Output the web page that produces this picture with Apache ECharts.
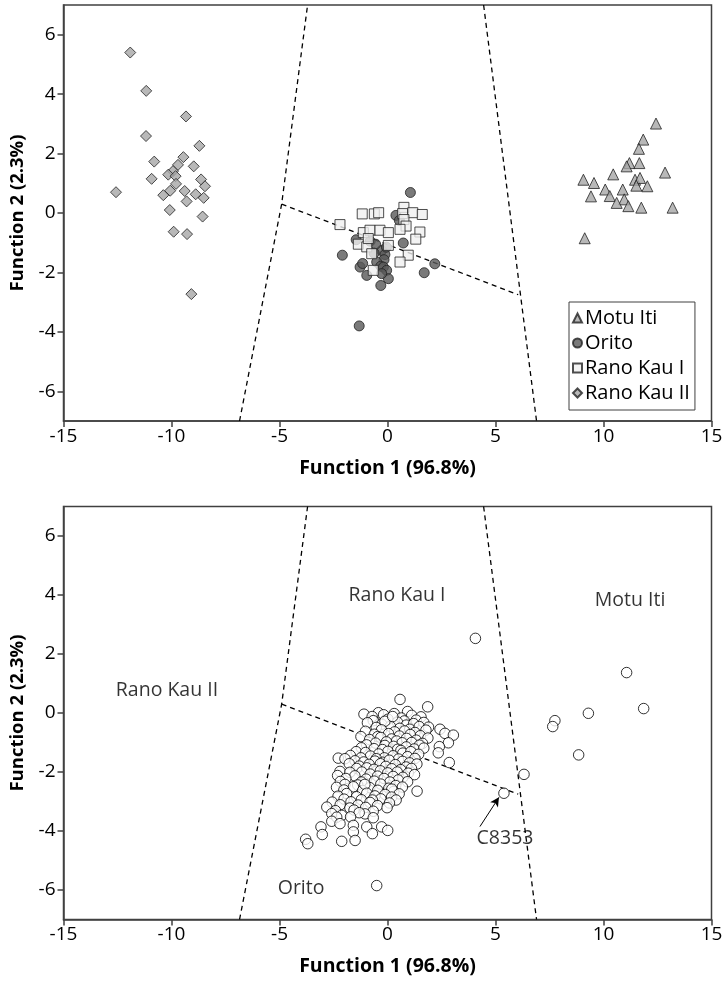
<!DOCTYPE html>
<html>
<head>
<meta charset="utf-8">
<script src="https://cdn.jsdelivr.net/npm/echarts@6/dist/echarts.min.js"></script>
<style>
  html, body { margin: 0; background: #fff; }
  #chart { width: 727px; height: 984px; }
</style>
</head>
<body>
<div id="chart"></div>
<script>
// Function 1 / Function 2 scores

const Y_TICKS = [-6, -4, -2, 0, 2, 4, 6];

const motuIti = [
  [12.43, 3.01], [11.84, 2.47], [11.64, 2.16], [11.20, 1.68], [11.66, 1.68], [11.07, 1.57],
  [10.45, 1.30], [12.85, 1.36], [9.07, 1.12], [9.56, 1.01], [11.46, 1.12], [11.69, 1.18],
  [11.52, 0.92], [12.03, 0.90], [10.89, 0.79], [10.08, 0.79], [9.42, 0.56], [10.29, 0.57],
  [10.96, 0.46], [10.61, 0.34], [11.15, 0.23], [11.75, 0.18], [13.20, 0.18], [9.13, -0.85]
];

const orito = [
  [1.06, 0.69], [0.39, -0.08], [-1.45, -0.90], [0.73, -1.01], [-2.09, -1.42], [-0.27, -1.26],
  [-0.12, -1.40], [-0.16, -1.57], [-0.50, -1.65], [-1.27, -1.82], [-1.15, -1.70], [-0.96, -2.10],
  [-0.31, -1.79], [-0.19, -1.82], [-0.04, -1.93], [0.04, -2.21], [-0.27, -2.04], [-0.31, -2.44],
  [2.19, -1.71], [1.70, -2.01], [-1.31, -3.80], [-0.80, -0.95], [0.55, -0.25], [-0.55, -1.05],
  [-0.62, -1.35], [-0.05, -1.15]
];

const ranoKauI = [
  [-2.20, -0.39], [-1.17, -0.03], [-0.61, -0.03], [-0.41, 0.01], [0.76, 0.19], [0.70, -0.02],
  [1.17, 0.01], [1.61, -0.05], [0.76, -0.22], [0.86, -0.44], [0.58, -0.55], [1.50, -0.64],
  [1.31, -0.88], [-1.12, -0.66], [-0.81, -0.58], [-0.35, -0.58], [0.04, -0.66], [-1.35, -1.05],
  [-0.96, -1.14], [-0.89, -0.86], [0.04, -1.09], [-0.73, -1.37], [0.96, -1.42], [0.58, -1.65],
  [-0.66, -1.93]
];

const ranoKauII = [
  [-11.91, 5.40], [-11.17, 4.11], [-9.33, 3.25], [-11.18, 2.59], [-8.71, 2.26], [-10.80, 1.73],
  [-9.45, 1.88], [-9.70, 1.62], [-8.97, 1.57], [-10.92, 1.15], [-9.93, 1.41], [-10.15, 1.29],
  [-9.81, 1.24], [-8.63, 1.13], [-8.45, 0.90], [-12.57, 0.70], [-9.79, 0.98], [-10.06, 0.75],
  [-10.38, 0.60], [-9.39, 0.74], [-8.88, 0.63], [-8.51, 0.51], [-9.30, 0.39], [-10.08, 0.10],
  [-8.56, -0.12], [-9.90, -0.63], [-9.28, -0.71], [-9.08, -2.73]
];

// unassigned artefacts (lower panel)
const artefacts = [
  [0.58, 0.46], [1.86, 0.21], [0.93, 0.05], [-0.42, 0.01], [-1.09, -0.04], [-0.18, -0.06],
  [0.31, -0.02], [1.12, -0.08], [1.55, -0.13], [0.64, -0.17], [-0.71, -0.12], [-0.66, -0.26],
  [0.02, -0.21], [0.78, -0.27], [1.33, -0.24], [-0.93, -0.33], [-0.27, -0.38], [0.46, -0.31],
  [0.87, -0.41], [1.21, -0.36], [1.68, -0.32], [-0.52, -0.49], [0.13, -0.45], [0.57, -0.52],
  [1.03, -0.55], [1.47, -0.46], [-0.12, -0.28], [0.24, -0.12], [1.9, -0.48],
  [-1.02, -0.62], [-0.28, -0.57], [0.33, -0.64], [0.79, -0.61], [1.27, -0.66], [1.78, -0.58],
  [-0.61, -0.72], [0.05, -0.70], [0.55, -0.78], [2.43, -0.55], [2.66, -0.69], [1.52, -0.77],
  [1.05, -0.73], [-0.45, -0.80],
  [-1.23, -0.80], [-0.83, -0.90], [-0.31, -0.83], [0.19, -0.88], [0.42, -0.95], [0.88, -0.86],
  [1.33, -0.92], [1.87, -0.85], [3.05, -0.75], [-0.05, -0.98], [0.68, -1.01], [1.12, -1.00],
  [-0.55, -1.02], [2.82, -1.01], [1.62, -1.03],
  [-0.97, -1.08], [-0.12, -1.10], [0.28, -1.13], [0.87, -1.15], [1.48, -1.09], [2.40, -1.14],
  [-1.21, -1.18], [-0.62, -1.21], [-0.23, -1.24], [0.47, -1.23], [1.24, -1.22], [1.68, -1.19],
  [0.62, -1.27],
  [-1.45, -1.31], [-1.02, -1.34], [0.02, -1.30], [0.71, -1.36], [1.08, -1.31], [2.35, -1.35],
  [-0.41, -1.39], [1.44, -1.40], [-1.72, -1.44], [-0.79, -1.46], [0.26, -1.45], [0.93, -1.48],
  [-0.15, -1.52],
  [-2.28, -1.53], [-1.97, -1.55], [-1.23, -1.52], [-0.52, -1.55], [0.51, -1.56], [1.27, -1.54],
  [-1.50, -1.62], [-1.10, -1.66], [-0.58, -1.63], [-0.22, -1.67], [0.70, -1.64], [1.02, -1.69],
  [0.08, -1.60], [2.86, -1.68], [-1.77, -1.72], [-0.85, -1.74], [0.36, -1.75], [1.36, -1.73],
  [-0.33, -1.72],
  [-1.31, -1.80], [-0.08, -1.81], [0.86, -1.83], [-1.43, -1.88], [-0.96, -1.86], [-0.62, -1.91],
  [0.20, -1.89], [0.61, -1.92], [1.11, -1.88], [-0.33, -1.96], [-2.20, -1.98], [-1.74, -2.01],
  [-1.19, -2.00], [0.01, -2.03], [0.45, -2.00], [0.96, -2.04],
  [-0.80, -2.07], [1.25, -2.09], [-2.31, -2.12], [-1.51, -2.13], [-0.46, -2.14], [0.26, -2.15],
  [0.71, -2.18], [-1.93, -2.22], [-0.99, -2.24], [-0.16, -2.22], [0.50, -2.27], [-2.18, -2.32],
  [-1.21, -2.34], [-0.61, -2.31], [0.11, -2.34], [0.93, -2.33],
  [-1.97, -2.42], [-1.38, -2.44], [-0.31, -2.41], [0.38, -2.46], [-2.36, -2.52], [-1.58, -2.50],
  [-0.82, -2.53], [0.06, -2.55], [0.69, -2.51], [-2.02, -2.61], [-1.15, -2.63], [-0.45, -2.62],
  [0.29, -2.66], [1.37, -2.65], [-1.05, -2.42], [0.20, -2.58],
  [-1.89, -2.73], [-0.96, -2.72], [-0.11, -2.76], [0.54, -2.74], [-2.29, -2.82], [-1.43, -2.84],
  [-0.58, -2.81], [0.19, -2.85], [-2.01, -2.92], [-1.21, -2.94], [-0.31, -2.91], [0.40, -2.95],
  [-0.70, -2.95],
  [-2.56, -3.02], [-1.69, -3.01], [-0.81, -3.03], [0.09, -3.05], [-2.19, -3.11], [-1.36, -3.12],
  [-0.46, -3.14], [-2.81, -3.19], [-1.74, -3.22], [-1.01, -3.20], [-0.02, -3.21],
  [-2.41, -3.31], [-1.55, -3.29], [-0.66, -3.33], [-2.58, -3.41], [-1.04, -3.42], [-1.31, -3.38],
  [-2.12, -3.47], [-2.35, -3.53], [-0.66, -3.55], [-1.71, -3.52],
  [-2.58, -3.67], [-2.20, -3.75], [-1.58, -3.81], [-3.08, -3.86], [-0.96, -3.86], [-0.27, -3.86],
  [0.01, -3.98], [-1.58, -4.03], [-0.70, -4.09], [-3.02, -4.12], [-3.79, -4.28], [-1.50, -4.32],
  [-2.12, -4.35], [-3.69, -4.43], [-0.50, -5.85],
  [4.07, 2.53], [11.07, 1.37], [11.86, 0.15], [9.30, -0.01], [7.75, -0.26], [7.65, -0.46],
  [8.85, -1.42], [6.32, -2.08], [5.39, -2.72]
];

// discriminant territory boundaries
const boundaryLeft = [[-6.85, -7], [-4.9, 0.3], [-3.7, 7]];
const boundaryMid = [[-4.9, 0.3], [6.05, -2.75]];
const boundaryRight = [[4.45, 7], [6.9, -7]];

const regionNames = ['Rano Kau I', 'Motu Iti', 'Rano Kau II', 'Orito'];
const regionPos = [[0.44, 3.97], [11.23, 3.80], [-10.21, 0.77], [-4.0, -5.96]];

const calloutName = 'C8353';
const calloutPos = [5.44, -4.25];
const calloutArrow = [[4.28, -3.85], [5.16, -2.86]];

const FONT = 'Open Sans';
const AXIS_COLOR = '#404040';

const chart = echarts.init(document.getElementById('chart'));

function xAxisFor(i) {
  return {
    gridIndex: i,
    type: 'value',
    min: -15, max: 15, interval: 5,
    axisLine: { onZero: false, lineStyle: { color: AXIS_COLOR, width: 1.5 } },
    axisTick: { show: true, length: 6, lineStyle: { color: AXIS_COLOR, width: 1.5 } },
    splitLine: { show: false },
    axisLabel: { color: '#000', fontSize: 19, fontFamily: FONT, margin: 6 },
    name: 'Function 1 (96.8%)',
    nameLocation: 'middle',
    nameGap: 37,
    nameTextStyle: { color: '#000', fontSize: 19.5, fontWeight: 'bold', fontFamily: FONT }
  };
}

function yAxisFor(i) {
  return {
    gridIndex: i,
    type: 'value',
    min: -7, max: 7,
    axisLine: { onZero: false, lineStyle: { color: AXIS_COLOR, width: 1.5 } },
    axisTick: { show: true, length: 6, customValues: Y_TICKS, lineStyle: { color: AXIS_COLOR, width: 1.5 } },
    splitLine: { show: false },
    axisLabel: { color: '#000', fontSize: 19, fontFamily: FONT, margin: 8, customValues: Y_TICKS },
    name: 'Function 2 (2.3%)',
    nameLocation: 'middle',
    nameGap: 31,
    nameRotate: 90,
    nameTextStyle: { color: '#000', fontSize: 18.5, fontWeight: 'bold', fontFamily: FONT }
  };
}

function boundary(data, i) {
  return {
    type: 'line',
    xAxisIndex: i, yAxisIndex: i,
    data: data,
    symbol: 'none',
    silent: true,
    lineStyle: { color: '#000', width: 1.3, type: [5, 4] },
    z: 1
  };
}

const pointStyle = (fill) => ({ color: fill, borderColor: '#222', borderWidth: 1 });

const option = {
  animation: false,
  backgroundColor: '#fff',
  textStyle: { fontFamily: FONT },
  grid: [
    { left: 63.5, right: 15.5, top: 5, height: 416, show: true, borderColor: AXIS_COLOR, borderWidth: 1.5 },
    { left: 63.5, right: 15.5, top: 506.5, height: 413, show: true, borderColor: AXIS_COLOR, borderWidth: 1.5 }
  ],
  xAxis: [xAxisFor(0), xAxisFor(1)],
  yAxis: [yAxisFor(0), yAxisFor(1)],
  legend: {
    orient: 'vertical',
    left: 569, top: 302,
    data: ['Motu Iti', 'Orito', 'Rano Kau I', 'Rano Kau II'],
    itemWidth: 9, itemHeight: 9, itemGap: 5,
    padding: [6, 5, 7, 3],
    backgroundColor: '#fff',
    borderColor: AXIS_COLOR, borderWidth: 1,
    textStyle: { color: '#000', fontSize: 20, fontFamily: FONT, padding: [0, 0, 0, -2] }
  },
  series: [
    boundary(boundaryLeft, 0), boundary(boundaryMid, 0), boundary(boundaryRight, 0),
    boundary(boundaryLeft, 1), boundary(boundaryMid, 1), boundary(boundaryRight, 1),
    {
      name: 'Motu Iti', type: 'scatter', xAxisIndex: 0, yAxisIndex: 0,
      symbol: 'triangle', symbolSize: 11, data: motuIti, itemStyle: pointStyle('#a6a6a6'), z: 3
    },
    {
      name: 'Orito', type: 'scatter', xAxisIndex: 0, yAxisIndex: 0,
      symbol: 'circle', symbolSize: 10, data: orito, itemStyle: pointStyle('#595959'), z: 3
    },
    {
      name: 'Rano Kau I', type: 'scatter', xAxisIndex: 0, yAxisIndex: 0,
      symbol: 'rect', symbolSize: 10, data: ranoKauI, itemStyle: pointStyle('#f0f0f0'), z: 4
    },
    {
      name: 'Rano Kau II', type: 'scatter', xAxisIndex: 0, yAxisIndex: 0,
      symbol: 'diamond', symbolSize: 11, data: ranoKauII, itemStyle: pointStyle('#a6a6a6'), z: 3
    },
    {
      name: 'Artefacts', type: 'scatter', xAxisIndex: 1, yAxisIndex: 1,
      symbol: 'circle', symbolSize: 10.5, data: artefacts,
      itemStyle: { color: '#fff', borderColor: '#000', borderWidth: 1 }, z: 3,
      markLine: {
        silent: true,
        symbol: ['none', 'arrow'], symbolSize: [7, 9],
        lineStyle: { color: '#000', width: 1, type: 'solid' },
        label: { show: false },
        data: [[{ coord: calloutArrow[0] }, { coord: calloutArrow[1] }]]
      }
    },
    {
      name: 'Regions', type: 'scatter', xAxisIndex: 1, yAxisIndex: 1,
      symbolSize: 1, silent: true,
      itemStyle: { color: 'rgba(0,0,0,0)' },
      data: regionNames.map((n, k) => ({ name: n, value: regionPos[k] }))
        .concat([{ name: calloutName, value: calloutPos }]),
      label: {
        show: true, position: 'inside', formatter: '{b}',
        color: '#000', fontSize: 19.5, fontFamily: FONT
      },
      z: 5
    }
  ]
};

chart.setOption(option);
window.addEventListener('resize', () => chart.resize());
</script>
</body>
</html>
